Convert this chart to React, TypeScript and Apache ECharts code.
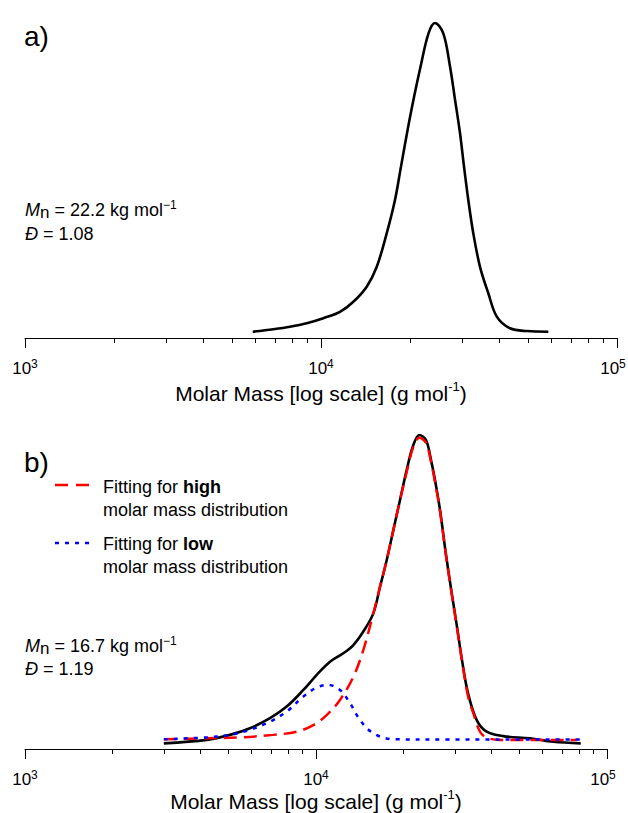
import React, { useEffect, useRef } from "react";
import * as echarts from "echarts";

const FONT = "'Liberation Sans', Arial, Helvetica, sans-serif";

// ---- axis ticks (g/mol) ----
const majorTicks = [1000, 10000, 100000];
const minorTicks = [2000, 3000, 4000, 5000, 6000, 7000, 8000, 9000, 20000, 30000, 40000, 50000, 60000, 70000, 80000, 90000];

// ---- panel a) ----
const aMass = [5880, 6900, 7860, 8950, 10180, 11590, 12860, 14270, 15430, 16670, 17780, 18630, 19520, 20530, 21690, 23080, 24270, 25890, 27290, 28370, 29490, 30420, 31450, 32700, 34450, 36750, 39250, 43500, 49540, 58610];
const aSignal = [0.020, 0.028, 0.036, 0.047, 0.063, 0.083, 0.115, 0.163, 0.226, 0.332, 0.438, 0.544, 0.650, 0.756, 0.861, 0.967, 1.0, 0.967, 0.861, 0.756, 0.650, 0.544, 0.438, 0.332, 0.226, 0.142, 0.068, 0.031, 0.022, 0.020];

// ---- panel b) measured ----
const bMass = [3000, 4210, 5060, 5930, 6950, 7930, 9050, 10060, 11170, 12410, 13440, 14540, 15740, 16600, 17500, 18440, 19440, 20500, 21600, 22650, 23880, 24850, 25640, 26680, 27980, 29340, 30520, 31750, 33290, 35670, 38610, 44020, 54380, 65390, 81230];
const bSignal = [0.018, 0.029, 0.045, 0.066, 0.098, 0.135, 0.188, 0.236, 0.278, 0.305, 0.331, 0.374, 0.432, 0.517, 0.602, 0.697, 0.793, 0.889, 0.968, 1.0, 0.984, 0.920, 0.857, 0.761, 0.618, 0.490, 0.389, 0.283, 0.178, 0.092, 0.055, 0.041, 0.034, 0.023, 0.018];

// ---- panel b) fit: high molar mass ----
const highMass = [3000, 4210, 5480, 7130, 8590, 9790, 10880, 12090, 13440, 14540, 15740, 16600, 17500, 18440, 19440, 20500, 21600, 22650, 23880, 24850, 25640, 26680, 27980, 29340, 30520, 31750, 33290, 34710, 36610, 38610, 42890, 78700];
const highSignal = [0.031, 0.034, 0.037, 0.045, 0.055, 0.076, 0.108, 0.156, 0.230, 0.315, 0.432, 0.517, 0.602, 0.697, 0.793, 0.882, 0.962, 0.991, 0.975, 0.914, 0.850, 0.758, 0.615, 0.487, 0.385, 0.280, 0.169, 0.114, 0.055, 0.036, 0.029, 0.029];

// ---- panel b) fit: low molar mass ----
const lowMass = [3000, 4210, 5060, 5930, 6950, 7930, 9050, 10060, 11020, 12090, 13090, 14170, 15740, 18440, 28870, 80780];
const lowSignal = [0.031, 0.037, 0.045, 0.061, 0.087, 0.119, 0.167, 0.196, 0.204, 0.188, 0.146, 0.092, 0.050, 0.031, 0.030, 0.030];

const zip = (xs: number[], ys: number[]) => xs.map((x, i) => [x, ys[i]]);

const TXT = "#000";

function majorAxis(gridIndex: number) {
  return {
    type: "log",
    logBase: 10,
    gridIndex,
    position: "bottom",
    min: 1000,
    max: 100000,
    axisLine: { show: true, lineStyle: { color: TXT, width: 1 } },
    axisTick: { show: true, customValues: majorTicks, length: 10, lineStyle: { color: TXT, width: 1 } },
    axisLabel: {
      show: true,
      customValues: majorTicks,
      margin: 20,
      formatter: (v: number) => {
        const e = Math.round(Math.log10(v));
        return e >= 5 ? `{b|10}{e|${e}}` : `{b|10}{s|${e}}`;
      },
      rich: {
        b: { fontSize: 17, fontFamily: FONT, color: TXT, lineHeight: 20, verticalAlign: "middle" },
        s: { fontSize: 12, fontFamily: FONT, color: TXT, lineHeight: 12, verticalAlign: "top" },
        e: { fontSize: 12, fontFamily: FONT, color: TXT, lineHeight: 12, verticalAlign: "top", padding: [0, 8, 0, 0] },
      },
    },
    splitLine: { show: false },
    minorTick: { show: false },
  };
}

function minorAxis(gridIndex: number) {
  return {
    type: "log",
    logBase: 10,
    gridIndex,
    position: "bottom",
    min: 1000,
    max: 100000,
    axisLine: { show: false },
    axisTick: { show: true, customValues: minorTicks, length: 5, lineStyle: { color: TXT, width: 1 } },
    axisLabel: { show: false },
    splitLine: { show: false },
  };
}

function valueAxis(gridIndex: number) {
  return { type: "value", gridIndex, min: 0, max: 1, show: false, splitLine: { show: false } };
}

const richAnno = {
  i: { fontSize: 18, fontFamily: FONT, fontStyle: "italic", fill: TXT, lineHeight: 22, verticalAlign: "middle" },
  r: { fontSize: 18, fontFamily: FONT, fill: TXT, lineHeight: 22, verticalAlign: "middle" },
  sub: { fontSize: 17, fontFamily: FONT, fill: TXT, lineHeight: 16, verticalAlign: "bottom" },
  sup: { fontSize: 12, fontFamily: FONT, fill: TXT, lineHeight: 12, verticalAlign: "top" },
  b: { fontSize: 18, fontFamily: FONT, fontWeight: "bold", fill: TXT, lineHeight: 22, verticalAlign: "middle" },
};

function txt(x: number, y: number, text: string, extra: any = {}) {
  return {
    type: "text",
    x,
    y,
    style: {
      text,
      rich: richAnno,
      fontSize: 18,
      fontFamily: FONT,
      fill: TXT,
      align: "left",
      textAlign: "left",
      verticalAlign: "middle",
      textVerticalAlign: "middle",
      ...extra,
    },
  };
}

function titleText(x: number, y: number) {
  return {
    type: "text",
    x,
    y,
    style: {
      text: "{r|Molar Mass [log scale] (g mol}{sup|-1}{r|)}",
      rich: {
        r: { fontSize: 21, fontFamily: FONT, fill: TXT, lineHeight: 26, verticalAlign: "middle" },
        sup: { fontSize: 13, fontFamily: FONT, fill: TXT, lineHeight: 13, verticalAlign: "top" },
      },
      fontSize: 21,
      fontFamily: FONT,
      fill: TXT,
      align: "center",
      textAlign: "center",
      verticalAlign: "middle",
      textVerticalAlign: "middle",
    },
  };
}

export default function App() {
  const ref = useRef<HTMLDivElement>(null);

  useEffect(() => {
    if (!ref.current) return;
    const chart = echarts.init(ref.current, undefined, { renderer: "svg" });
    const option: any = {
      animation: false,
      backgroundColor: "#ffffff",
      grid: [
        { left: 25, right: 11, top: 23, height: 315, containLabel: false, outerBoundsMode: "none" },
        { left: 25, right: 21, top: 435, height: 314, containLabel: false, outerBoundsMode: "none" },
      ],
      xAxis: [majorAxis(0), minorAxis(0), majorAxis(1), minorAxis(1)],
      yAxis: [valueAxis(0), valueAxis(1)],
      series: [
        {
          name: "a) measured",
          type: "line",
          xAxisIndex: 0,
          yAxisIndex: 0,
          data: zip(aMass, aSignal),
          showSymbol: false,
          smooth: 0.35,
          lineStyle: { color: "#000", width: 2.6 },
          z: 2,
        },
        {
          name: "b) measured",
          type: "line",
          xAxisIndex: 2,
          yAxisIndex: 1,
          data: zip(bMass, bSignal),
          showSymbol: false,
          smooth: 0.35,
          lineStyle: { color: "#000", width: 2.6 },
          z: 2,
        },
        {
          name: "Fitting for high molar mass distribution",
          type: "line",
          xAxisIndex: 2,
          yAxisIndex: 1,
          data: zip(highMass, highSignal),
          showSymbol: false,
          smooth: 0.35,
          lineStyle: { color: "#ff0000", width: 2.5, type: [13, 7] },
          z: 3,
        },
        {
          name: "Fitting for low molar mass distribution",
          type: "line",
          xAxisIndex: 2,
          yAxisIndex: 1,
          data: zip(lowMass, lowSignal),
          showSymbol: false,
          smooth: 0.35,
          lineStyle: { color: "#0000ff", width: 2.5, type: [4, 6] },
          z: 4,
        },
      ],
      graphic: [
        txt(24, 36, "a)", { fontSize: 28, rich: undefined }),
        txt(24, 462, "b)", { fontSize: 28, rich: undefined }),
        txt(25, 210, "{i|M}{sub|n}{r| = 22.2 kg mol}{sup|−1}"),
        txt(25, 234, "{i|Đ}{r| = 1.08}"),
        txt(25, 646, "{i|M}{sub|n}{r| = 16.7 kg mol}{sup|−1}"),
        txt(25, 669, "{i|Đ}{r| = 1.19}"),
        {
          type: "line",
          shape: { x1: 55, y1: 485, x2: 96, y2: 485 },
          style: { stroke: "#ff0000", lineWidth: 2.5, lineDash: [13, 8] },
        },
        txt(103, 487, "{r|Fitting for }{b|high}"),
        txt(103, 510, "{r|molar mass distribution}"),
        {
          type: "line",
          shape: { x1: 55, y1: 543, x2: 92, y2: 543 },
          style: { stroke: "#0000ff", lineWidth: 2.5, lineDash: [4, 6] },
        },
        txt(103, 544, "{r|Fitting for }{b|low}"),
        txt(103, 567, "{r|molar mass distribution}"),
        titleText(321, 393),
        titleText(316, 801),
      ],
    };
    chart.setOption(option);
    return () => chart.dispose();
  }, []);

  return (
    <div
      ref={ref}
      style={{ position: "fixed", left: 0, top: 0, width: 628, height: 813, background: "#fff" }}
    />
  );
}
